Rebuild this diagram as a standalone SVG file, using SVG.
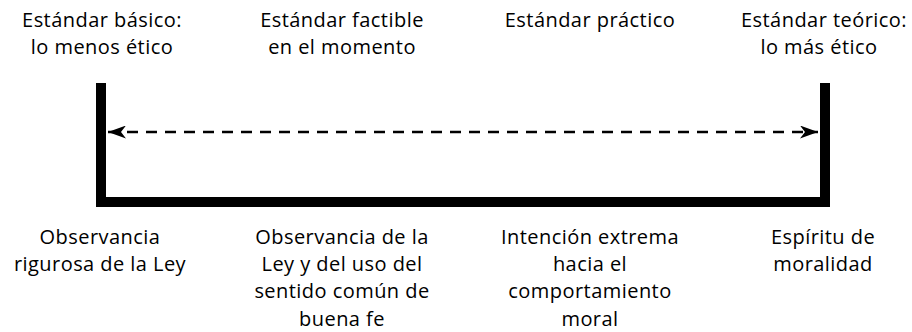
<svg xmlns="http://www.w3.org/2000/svg" width="912" height="332" viewBox="0 0 912 332">
<defs>
<style>
text{font-family:"Open Sans","Noto Sans","Liberation Sans",sans-serif;font-size:20px;letter-spacing:0.45px;fill:#000;text-anchor:middle}
.bar{fill:#000}
.dash{stroke:#000;stroke-width:2.6;stroke-dasharray:11,8;fill:none}
</style>
<marker id="ah" viewBox="0 0 18 13" refX="18" refY="6.5" markerWidth="18" markerHeight="13" markerUnits="userSpaceOnUse" orient="auto-start-reverse">
<path d="M0,0 L18,6.5 L0,13 L5,6.5 Z" fill="#000"/>
</marker>
</defs>
<rect width="912" height="332" fill="#fff"/>
<g id="bracket">
<rect class="bar" x="96" y="83" width="10" height="124"/>
<rect class="bar" x="820" y="83" width="10" height="124"/>
<rect class="bar" x="96" y="197" width="734" height="10"/>
</g>
<g id="connectors">
<line class="dash" x1="108" y1="132" x2="818" y2="132" marker-start="url(#ah)" marker-end="url(#ah)"/>
</g>
<g id="top1"><text x="102" y="26.5">Estándar básico:</text><text x="102" y="53.8">lo menos ético</text></g>
<g id="top2"><text x="342" y="26.5">Estándar factible</text><text x="342" y="53.8">en el momento</text></g>
<g id="top3"><text x="590" y="26.5">Estándar práctico</text></g>
<g id="top4"><text x="824" y="26.5">Estándar teórico:</text><text x="819" y="53.8">lo más ético</text></g>
<g id="bot1"><text x="100" y="243.6">Observancia</text><text x="100" y="270.9">rigurosa de la Ley</text></g>
<g id="bot2"><text x="342" y="243.6">Observancia de la</text><text x="342" y="270.9">Ley y del uso del</text><text x="342" y="298.2">sentido común de</text><text x="342" y="325.5">buena fe</text></g>
<g id="bot3"><text x="590" y="243.6">Intención extrema</text><text x="590" y="270.9">hacia el</text><text x="590" y="298.2">comportamiento</text><text x="590" y="325.5">moral</text></g>
<g id="bot4"><text x="823" y="243.6">Espíritu de</text><text x="823" y="270.9">moralidad</text></g>
</svg>
